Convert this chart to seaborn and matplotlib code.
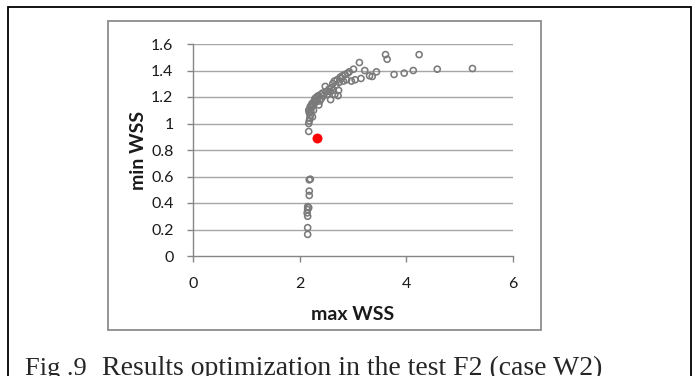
import matplotlib
matplotlib.use("Agg")
import matplotlib.pyplot as plt
from matplotlib.patches import Rectangle
import seaborn as sns
import pandas as pd

# Optimization results: maximum vs minimum wall shear stress
max_wss = [
    2.17, 2.18, 2.19, 2.20, 2.18, 2.17, 2.19, 2.21, 2.22, 2.20,
    2.24, 2.23, 2.25, 2.27, 2.26, 2.29, 2.30, 2.32, 2.33, 2.35,
    2.36, 2.38, 2.40, 2.41, 2.43, 2.45, 2.48, 2.50, 2.52, 2.55,
    2.57, 2.58, 2.60, 2.62, 2.63, 2.65, 2.66, 2.68, 2.70, 2.72,
    2.73, 2.74, 2.76, 2.78, 2.80, 2.82, 2.85, 2.88, 2.90, 2.93,
    2.97, 3.01, 3.04, 3.12, 3.15, 3.22, 3.31, 3.36, 3.44, 3.61,
    3.64, 3.77, 3.96, 4.13, 4.24, 4.58, 5.24, 2.17,
    2.18, 2.20, 2.18, 2.18, 2.15, 2.17, 2.15, 2.14, 2.15, 2.15, 2.15,
]
min_wss = [
    1.00, 1.02, 1.04, 1.06, 1.08, 1.10, 1.11, 1.09, 1.12, 1.13,
    1.05, 1.15, 1.14, 1.17, 1.10, 1.19, 1.16, 1.20, 1.18, 1.21,
    1.14, 1.17, 1.22, 1.19, 1.23, 1.21, 1.28, 1.24, 1.22, 1.26,
    1.24, 1.18, 1.27, 1.30, 1.25, 1.32, 1.22, 1.29, 1.33, 1.21,
    1.25, 1.31, 1.35, 1.34, 1.36, 1.32, 1.37, 1.33, 1.38, 1.39,
    1.32, 1.41, 1.33, 1.46, 1.34, 1.40, 1.36, 1.355, 1.39, 1.52,
    1.485, 1.37, 1.38, 1.40, 1.52, 1.41, 1.415, 0.94,
    0.575, 0.58, 0.49, 0.457, 0.372, 0.365, 0.35, 0.325, 0.30, 0.214, 0.163,
]

# Selected solution
best_max = [2.32]
best_min = [0.893]

x_ticks = [0, 2, 4, 6]
y_ticks = [0, 0.2, 0.4, 0.6, 0.8, 1, 1.2, 1.4, 1.6]
y_tick_labels = ["0", "0.2", "0.4", "0.6", "0.8", "1", "1.2", "1.4", "1.6"]

sns.set_style("white")
plt.rcParams["font.family"] = ["Lato", "DejaVu Sans"]

W, H = 699, 376
fig = plt.figure(figsize=(W / 100, H / 100), dpi=100)
ax = fig.add_axes([193 / W, 1 - 256 / H, (513 - 193) / W, (256 - 44) / H])

df = pd.DataFrame({"max WSS": max_wss, "min WSS": min_wss})
best = pd.DataFrame({"max WSS": best_max, "min WSS": best_min})

sns.scatterplot(data=df, x="max WSS", y="min WSS", ax=ax, s=19,
                color="#808080", linewidth=1.15, zorder=3)
pts = ax.collections[-1]
pts.set_facecolor("none")
pts.set_edgecolor("#7a7a7a")

sns.scatterplot(data=best, x="max WSS", y="min WSS", ax=ax, s=44,
                color="#ff0000", edgecolor="#ff0000", linewidth=0.5, zorder=4)

ax.set_xlim(0, 6)
ax.set_ylim(0, 1.6)
ax.set_xticks(x_ticks)
ax.set_yticks(y_ticks)
ax.set_yticklabels(y_tick_labels)

for yv in y_ticks[1:]:
    ax.axhline(yv, color="#a6a6a6", linewidth=1.0, zorder=1)

for side in ["top", "right"]:
    ax.spines[side].set_visible(False)
for side in ["left", "bottom"]:
    ax.spines[side].set_color("#868686")
    ax.spines[side].set_linewidth(1.0)

ax.tick_params(axis="x", direction="out", length=4, width=1.0, color="#868686",
               pad=11, labelsize=11.5, labelcolor="#1a1a1a")
ax.tick_params(axis="y", direction="out", length=4, width=1.0, color="#868686",
               pad=10, labelsize=11.5, labelcolor="#1a1a1a")
ax.tick_params(bottom=True, left=True)

ax.set_xlabel("max WSS", fontsize=14, fontweight="bold", labelpad=11, color="#1a1a1a")
ax.set_ylabel("min WSS", fontsize=14, fontweight="bold", labelpad=3, color="#1a1a1a")

# Chart frame and outer figure frame
fig.add_artist(Rectangle((108 / W, 1 - 330 / H), (541 - 108) / W, (330 - 21) / H,
                         transform=fig.transFigure, fill=False,
                         edgecolor="#8c8c8c", linewidth=1.3))
fig.add_artist(Rectangle((8 / W, -0.05), (691 - 8) / W, 1.05 - 7 / H,
                         transform=fig.transFigure, fill=False,
                         edgecolor="black", linewidth=1.3))

fig.text(25 / W, 1 / H, "Fig .9", fontsize=19, family="Liberation Serif",
         va="baseline", ha="left")
fig.text(102 / W, 1 / H, "Results optimization in the test F2 (case W2)",
         fontsize=20, family="Liberation Serif", va="baseline", ha="left")

fig.savefig("out.png", dpi=100)
